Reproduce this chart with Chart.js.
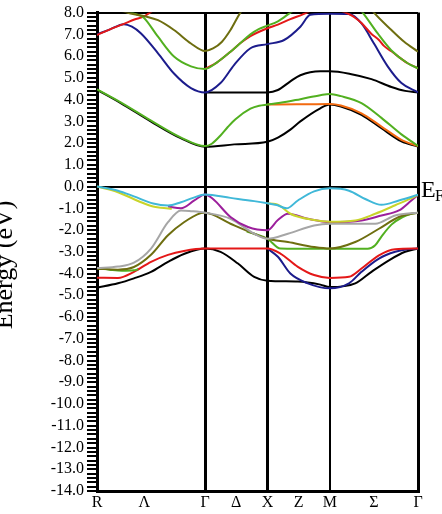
<!DOCTYPE html>
<html>
<head>
<meta charset="utf-8">
<script src="https://cdn.jsdelivr.net/npm/chart.js@4/dist/chart.umd.min.js"></script>
<style>
  html, body { margin: 0; padding: 0; background: #fff; }
  canvas { display: block; }
</style>
</head>
<body>
<canvas id="bands" width="442" height="514"></canvas>
<script>
// k-path distances: R, Γ, X, M, Γ
const kSym = [0, 0.866, 1.366, 1.866, 2.573];
const kTickPos = [0, 0.38, 0.866, 1.116, 1.366, 1.616, 1.866, 2.22, 2.573];
const kTickLabels = ['R', 'Λ', 'Γ', 'Δ', 'X', 'Z', 'M', 'Σ', 'Γ'];
const energyMin = -14;
const energyMax = 8;

// conduction bands, [k, E] in eV
const cbLowBlack = [[0,4.45],[0.19,3.84],[0.43,3.0],[0.67,2.23],[0.866,1.83],[1.1,1.94],[1.366,2.06],[1.45,2.25],[1.55,2.62],[1.63,3.0],[1.79,3.6],[1.866,3.77],[1.955,3.68],[2.12,3.3],[2.28,2.68],[2.44,2.08],[2.573,1.84]];
const cbLowGreen = [[0,4.47],[0.19,3.87],[0.43,3.04],[0.67,2.26],[0.866,1.86],[0.92,1.97],[0.99,2.35],[1.05,2.75],[1.11,3.1],[1.23,3.58],[1.3,3.72],[1.366,3.77],[1.47,3.85],[1.63,4.02],[1.79,4.2],[1.866,4.26],[1.955,4.16],[2.12,3.84],[2.28,3.16],[2.44,2.4],[2.573,1.87]];
const cbOrange = [[1.366,3.77],[1.6,3.78],[1.866,3.8],[1.955,3.73],[2.12,3.37],[2.28,2.76],[2.44,2.15],[2.573,1.86]];
const cbMidBlack = [[0.866,4.33],[1.366,4.33],[1.45,4.44],[1.55,4.84],[1.63,5.12],[1.79,5.3],[1.866,5.3],[2.03,5.18],[2.2,4.94],[2.36,4.58],[2.47,4.4],[2.573,4.33]];
const cbBlue = [[0,7.0],[0.1,7.22],[0.216,7.47],[0.28,7.35],[0.353,7.04],[0.489,6.13],[0.617,5.2],[0.753,4.53],[0.866,4.33],[0.99,4.76],[1.1,5.6],[1.23,6.36],[1.366,6.55],[1.5,6.74],[1.63,7.35],[1.71,7.9],[1.866,7.95],[2.02,7.93],[2.12,7.5],[2.22,6.58],[2.33,5.53],[2.44,4.76],[2.573,4.33]];
const cbRedA = [[0,6.97],[0.1,7.22],[0.216,7.48],[0.3,7.68],[0.369,7.8],[0.45,8.1]];
const cbRedB = [[0.866,5.41],[0.96,5.7],[1.07,6.2],[1.15,6.6],[1.23,6.92],[1.3,7.12],[1.366,7.28],[1.45,7.45],[1.55,7.7],[1.65,7.92],[1.75,8.2]];
const cbRedC = [[1.95,8.1],[2.02,7.93],[2.06,7.8],[2.12,7.52],[2.2,7.02],[2.26,6.74],[2.3,6.47],[2.36,6.22],[2.49,5.67],[2.573,5.44]];
const cbGreenA = [[0.25,8.1],[0.3,7.95],[0.369,7.8],[0.489,6.89],[0.617,5.98],[0.753,5.53],[0.866,5.41],[0.96,5.7],[1.07,6.2],[1.15,6.6],[1.23,7.0],[1.3,7.25],[1.366,7.4],[1.45,7.6],[1.55,8.0],[1.6,8.2]];
const cbGreenB = [[2.1,8.2],[2.13,8.0],[2.25,7.04],[2.36,6.26],[2.49,5.67],[2.573,5.44]];
const cbOliveA = [[0.19,8.1],[0.26,7.97],[0.393,7.82],[0.489,7.65],[0.617,7.2],[0.753,6.58],[0.866,6.23],[0.93,6.35],[1.0,6.65],[1.07,7.2],[1.15,8.0],[1.2,8.3]];
const cbOliveB = [[2.18,8.3],[2.22,8.0],[2.36,7.2],[2.46,6.67],[2.573,6.2]];

// valence bands
const vbCyan = [[0,0],[0.168,-0.19],[0.296,-0.45],[0.45,-0.78],[0.569,-0.87],[0.673,-0.72],[0.77,-0.52],[0.866,-0.36],[1.07,-0.52],[1.26,-0.67],[1.366,-0.77],[1.44,-0.85],[1.52,-1.0],[1.61,-0.64],[1.74,-0.22],[1.866,-0.08],[2.02,-0.19],[2.15,-0.57],[2.28,-0.84],[2.42,-0.64],[2.573,-0.38]];
const vbYellowA = [[0,0],[0.168,-0.26],[0.353,-0.72],[0.45,-0.92],[0.513,-0.97],[0.6,-1.02]];
const vbYellowB = [[1.366,-0.77],[1.43,-0.8],[1.47,-0.9],[1.55,-1.25],[1.74,-1.54],[1.866,-1.62],[2.07,-1.56],[2.23,-1.25],[2.39,-0.86],[2.55,-0.45],[2.573,-0.38]];
const vbPurple = [[0.569,-0.92],[0.673,-1.0],[0.78,-0.64],[0.866,-0.36],[0.93,-0.57],[1.07,-1.4],[1.21,-1.86],[1.366,-2.01],[1.45,-1.54],[1.53,-1.25],[1.69,-1.48],[1.866,-1.63],[2.12,-1.56],[2.28,-1.33],[2.42,-1.1],[2.52,-0.64],[2.573,-0.38]];
const vbGrey = [[0,-3.75],[0.168,-3.68],[0.296,-3.5],[0.433,-2.85],[0.569,-1.64],[0.673,-1.1],[0.753,-1.13],[0.866,-1.2],[1.07,-1.48],[1.26,-2.17],[1.366,-2.4],[1.53,-2.17],[1.74,-1.79],[1.866,-1.71],[2.23,-1.71],[2.39,-1.33],[2.573,-1.2]];
const vbOlive = [[0,-3.78],[0.168,-3.82],[0.296,-3.7],[0.433,-3.14],[0.569,-2.24],[0.697,-1.64],[0.833,-1.22],[0.866,-1.2],[1.07,-1.71],[1.26,-2.17],[1.366,-2.4],[1.53,-2.55],[1.74,-2.78],[1.866,-2.85],[2.07,-2.55],[2.26,-1.94],[2.42,-1.4],[2.573,-1.2]];
const vbGreenA = [[0,-3.75],[0.1,-3.82],[0.2,-3.87],[0.296,-3.85],[0.33,-3.8]];
const vbGreenB = [[1.2,-2.07],[1.26,-2.17],[1.366,-2.4],[1.47,-2.85],[1.6,-2.86],[2.17,-2.86],[2.23,-2.7],[2.28,-2.3],[2.36,-1.75],[2.45,-1.4],[2.52,-1.25],[2.573,-1.2]];
const vbRed = [[0,-4.19],[0.168,-4.2],[0.296,-3.92],[0.433,-3.46],[0.569,-3.14],[0.697,-2.96],[0.866,-2.85],[1.366,-2.85],[1.47,-3.08],[1.61,-3.69],[1.74,-4.07],[1.866,-4.2],[2.02,-4.15],[2.12,-3.77],[2.26,-3.16],[2.39,-2.88],[2.573,-2.85]];
const vbBlack = [[0,-4.65],[0.168,-4.45],[0.296,-4.22],[0.433,-3.92],[0.569,-3.46],[0.697,-3.1],[0.866,-2.85],[0.99,-3.0],[1.13,-3.54],[1.26,-4.15],[1.366,-4.33],[1.61,-4.37],[1.79,-4.51],[1.866,-4.62],[2.07,-4.45],[2.2,-3.92],[2.34,-3.39],[2.47,-3.0],[2.573,-2.85]];
const vbBlue = [[1.366,-2.85],[1.45,-3.23],[1.55,-4.0],[1.69,-4.45],[1.866,-4.68],[2.02,-4.45],[2.12,-3.92],[2.26,-3.31],[2.39,-3.0],[2.5,-2.87],[2.573,-2.85]];

const colors = {
  black: '#000000',
  green: '#52b020',
  olive: '#6e6e10',
  blue: '#1c1c8c',
  red: '#e41818',
  orange: '#f26a10',
  cyan: '#40b8d8',
  yellow: '#c8d42a',
  purple: '#9c1f9c',
  grey: '#a6a6a6'
};

// paint order: first listed is drawn first (underneath)
const bands = [
  [cbLowBlack, 'black'], [cbOrange, 'orange'], [cbLowGreen, 'green'],
  [cbMidBlack, 'black'], [cbBlue, 'blue'], [cbRedA, 'red'],
  [cbRedB, 'red'], [cbGreenA, 'green'], [cbRedC, 'red'], [cbGreenB, 'green'],
  [cbOliveA, 'olive'], [cbOliveB, 'olive'],
  [vbBlack, 'black'], [vbBlue, 'blue'], [vbRed, 'red'],
  [vbGreenA, 'green'], [vbGreenB, 'green'], [vbOlive, 'olive'], [vbGrey, 'grey'],
  [vbPurple, 'purple'], [vbYellowA, 'yellow'], [vbYellowB, 'yellow'], [vbCyan, 'cyan']
];

const datasets = bands.map(([pts, col], i) => ({
  data: pts.map(p => ({ x: p[0], y: p[1] })),
  borderColor: colors[col],
  borderWidth: 2,
  pointRadius: 0,
  fill: false,
  cubicInterpolationMode: 'monotone',
  clip: 0,
  order: bands.length - i
}));

const serif = '"Liberation Serif", "Times New Roman", serif';

// axis title and Fermi label drawn by hand so they can be cut at the edges
const textPlugin = {
  id: 'bandText',
  afterDraw(chart) {
    const c = chart.ctx;
    const area = chart.chartArea;
    const y0 = chart.scales.y.getPixelForValue(0);
    c.save();
    c.fillStyle = '#000';
    c.font = '26px ' + serif;
    c.translate(12, 265);
    c.rotate(-Math.PI / 2);
    c.textAlign = 'center';
    c.fillText('Energy (eV)', 0, 0);
    c.restore();

    c.save();
    c.fillStyle = '#000';
    c.font = '24px ' + serif;
    c.textAlign = 'left';
    c.fillText('E', area.right + 3, y0 + 10);
    c.font = '16px ' + serif;
    c.fillText('F', area.right + 17, y0 + 14);
    c.restore();
  }
};

const isSym = v => kSym.some(k => Math.abs(k - v) < 1e-6);

new Chart(document.getElementById('bands'), {
  type: 'line',
  data: { datasets: datasets },
  plugins: [textPlugin],
  options: {
    responsive: false,
    animation: false,
    devicePixelRatio: 1,
    layout: { padding: { left: 0, right: 24, top: 9, bottom: 0 } },
    plugins: { legend: { display: false }, tooltip: { enabled: false } },
    scales: {
      x: {
        type: 'linear',
        min: kSym[0],
        max: kSym[kSym.length - 1],
        afterBuildTicks: scale => { scale.ticks = kTickPos.map(v => ({ value: v })); },
        afterFit: scale => { scale.height = 23; },
        ticks: {
          autoSkip: false,
          maxRotation: 0,
          padding: 2,
          color: '#000',
          font: { family: serif, size: 16 },
          callback: (v, i) => kTickLabels[i]
        },
        grid: {
          drawTicks: false,
          color: ctx => (ctx.tick && isSym(ctx.tick.value)) ? '#000' : 'rgba(0,0,0,0)',
          lineWidth: ctx => {
            if (!ctx.tick) return 1;
            const v = ctx.tick.value;
            if (Math.abs(v - kSym[3]) < 1e-6) return 2;
            return 3;
          }
        },
        border: { display: true, color: '#000', width: 3 }
      },
      y: {
        type: 'linear',
        min: energyMin,
        max: energyMax,
        afterBuildTicks: scale => {
          const t = [];
          for (let i = 0; i <= (energyMax - energyMin) * 5; i++) {
            t.push({ value: Math.round((energyMin + i * 0.2) * 10) / 10 });
          }
          scale.ticks = t;
        },
        afterFit: scale => { scale.width = 97; },
        ticks: {
          autoSkip: false,
          padding: 3,
          color: '#000',
          font: { family: serif, size: 16 },
          callback: v => Math.abs(v - Math.round(v)) < 1e-6 ? v.toFixed(1) : ''
        },
        grid: {
          color: ctx => (ctx.tick && (ctx.tick.value === 0 || ctx.tick.value === energyMax)) ? '#000' : 'rgba(0,0,0,0)',
          lineWidth: 2,
          tickColor: '#000',
          tickLength: 10,
          tickWidth: 2
        },
        border: { display: true, color: '#000', width: 3 }
      }
    }
  }
});
</script>
</body>
</html>
